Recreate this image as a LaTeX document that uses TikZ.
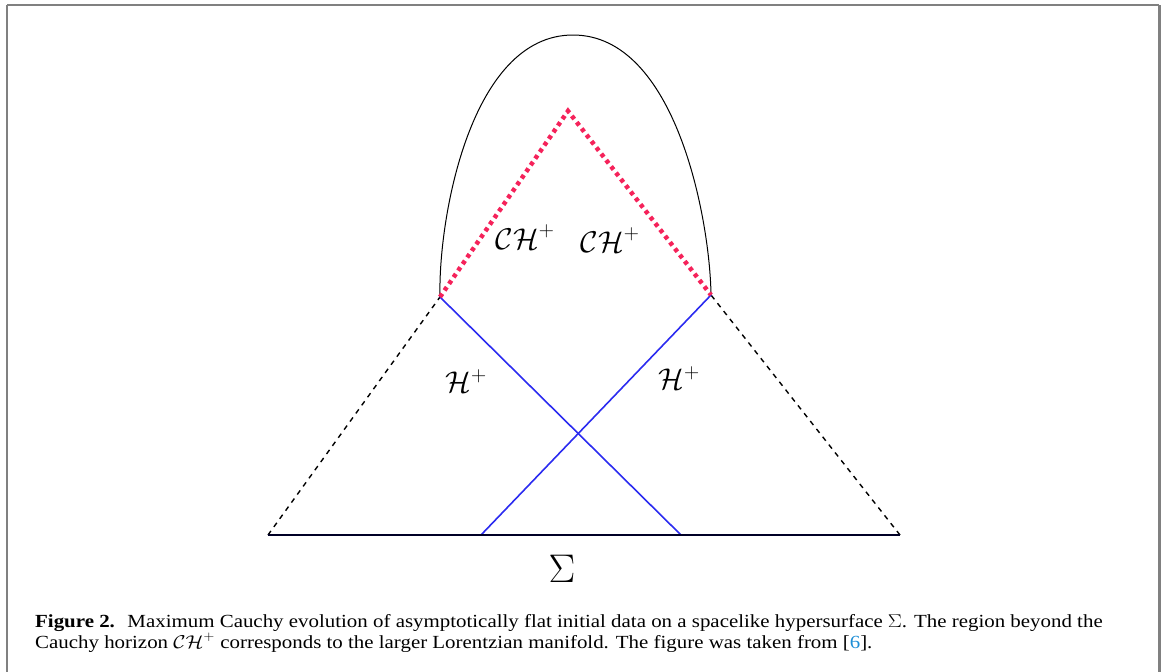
\RequirePackage{fix-cm}
\documentclass[tikz,border=0pt]{standalone}
\usepackage{fontspec}
\setmainfont{Liberation Serif}
\usepackage{xcolor}
\definecolor{cred}{HTML}{F5225A}
\definecolor{cblue}{HTML}{2B2BF0}
\definecolor{cframe}{HTML}{808080}
\definecolor{clink}{HTML}{1E8ED6}
\tikzset{
  horizon/.style={cblue, line width=1.6pt},
  cauchy/.style={cred, line width=4.5pt, dash pattern=on 4pt off 4pt},
  nullinf/.style={black, line width=1.4pt, dash pattern=on 5pt off 5pt},
  sigmaline/.style={black!85!blue, line width=2.2pt},
  arcline/.style={black, line width=1pt},
  lbl/.style={inner sep=0pt, font=\fontsize{30}{34}\selectfont},
  captxt/.style={inner sep=0pt, anchor=west, font=\fontsize{18.5}{22}\selectfont}
}
\begin{document}
\begin{tikzpicture}[x=1pt,y=-1pt]
\useasboundingbox (0,0) rectangle (1165,672);
\begin{scope}
\clip (0,0) rectangle (1165,672);
\draw[cframe, line width=2.2pt] (7,5) -- (1159,5);
\draw[cframe, line width=2.2pt] (7,5) -- (7,690);
\draw[cframe, line width=3pt] (1159.5,5) -- (1159.5,690);
\end{scope}
% key points
\coordinate (BL) at (268,535);
\coordinate (BR) at (900,535);
\coordinate (L) at (440,297);
\coordinate (R) at (711,295);
\coordinate (T) at (568,111);
\coordinate (BLb) at (681,535);
\coordinate (BRb) at (481,535);
% arc
\draw[arcline] (L) .. controls (438,220) and (470,35) .. (573,35)
  .. controls (676,35) and (710,220) .. (R);
% null infinity dashed
\draw[nullinf] (BL) -- (L);
\draw[nullinf] (BR) -- (R);
% horizons
\draw[horizon] (L) -- (BLb);
\draw[horizon] (R) -- (BRb);
% Sigma line
\draw[sigmaline] (BL) -- (BR);
% Cauchy horizons
\draw[cauchy] (L) -- (T) -- (R);
% labels
\node[lbl] (ch1) at (525,237) {$\mathcal{CH}^{+}$};
\node[lbl] (ch2) at (610,240) {$\mathcal{CH}^{+}$};
\node[lbl] (h1) at (466,381) {$\mathcal{H}^{+}$};
\node[lbl] (h2) at (679,378) {$\mathcal{H}^{+}$};
\node[inner sep=0pt, font=\fontsize{40}{44}\selectfont] (sig) at (562,569) {$\Sigma$};
% caption
\node[captxt] (c1) at (35,623) {\scalebox{1.13}[1]{\textbf{Figure 2.}\hspace{0.6em}Maximum Cauchy evolution of asymptotically flat initial data on a spacelike hypersurface $\Sigma$. The region beyond the}};
\node[captxt] (c2) at (35,643) {\scalebox{1.13}[1]{Cauchy horizon $\mathcal{CH}^{+}$ corresponds to the larger Lorentzian manifold. The figure was taken from [{\color{clink}6}].}};
\end{tikzpicture}
\end{document}
